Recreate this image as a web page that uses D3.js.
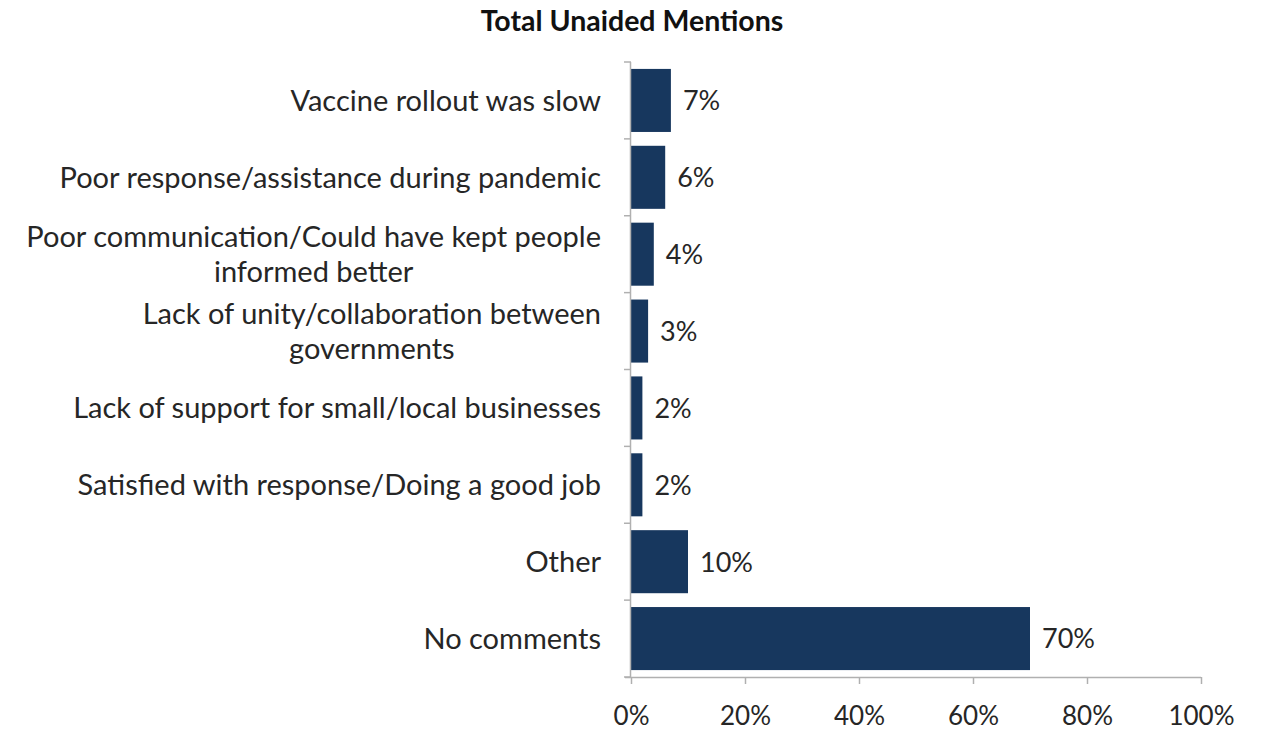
<!DOCTYPE html>
<html><head><meta charset="utf-8">
<script src="https://cdn.jsdelivr.net/npm/d3@7"></script>
<style>body{margin:0;background:#fff}svg{display:block}text{font-family:Lato,"Open Sans",sans-serif}</style>
</head><body>
<svg id="c" width="1263" height="732"></svg>
<script>
const categories = [
  ["Vaccine rollout was slow"],
  ["Poor response/assistance during pandemic"],
  ["Poor communication/Could have kept people", "informed better"],
  ["Lack of unity/collaboration between", "governments"],
  ["Lack of support for small/local businesses"],
  ["Satisfied with response/Doing a good job"],
  ["Other"],
  ["No comments"]
];
const values = [7, 6, 4, 3, 2, 2, 10, 70];
const xTicks = [0, 20, 40, 60, 80, 100];
const title = "Total Unaided Mentions";

const svg = d3.select("#c");
const m = {left: 631, right: 1201, top: 62, bottom: 677};
const ids = categories.map((d, i) => i);
const x = d3.scaleLinear().domain([0, 100]).range([m.left, m.right]);
const y = d3.scaleBand().domain(ids).range([m.top, m.bottom]).paddingInner(0.18).paddingOuter(0.09);
const barColor = "#17375E", axisColor = "#b0b0b0", textColor = "#262626";

svg.append("text").attr("x", 632).attr("y", 24).attr("text-anchor", "middle")
  .attr("dominant-baseline", "middle").attr("font-size", 28.5).attr("font-weight", "bold")
  .attr("fill", "#111").text(title);

svg.selectAll("rect.bar").data(values).join("rect").attr("class", "bar")
  .attr("x", x(0)).attr("y", (d, i) => y(i)).attr("width", d => x(d) - x(0))
  .attr("height", y.bandwidth()).attr("fill", barColor);

// category axis (left)
const step = y.step();
const bounds = d3.range(categories.length + 1).map(i => m.top + i * step);
svg.append("line").attr("x1", x(0) - 0.5).attr("x2", x(0) - 0.5).attr("y1", m.top).attr("y2", m.bottom)
  .attr("stroke", axisColor).attr("stroke-width", 1.5);
svg.selectAll("line.ytick").data(bounds).join("line").attr("class", "ytick")
  .attr("x1", x(0) - 7).attr("x2", x(0)).attr("y1", d => d).attr("y2", d => d)
  .attr("stroke", axisColor).attr("stroke-width", 1.5);

// x axis
const xa = svg.append("g").attr("transform", `translate(0,${m.bottom})`)
  .call(d3.axisBottom(x).tickValues(xTicks).tickSize(7).tickPadding(23).tickFormat(d => d + "%"));
xa.select(".domain").attr("stroke", axisColor).attr("stroke-width", 1.5).attr("d", `M${x(0)-6},0.5H${x(100)}`);
xa.selectAll(".tick line").attr("stroke", axisColor).attr("stroke-width", 1.5);
xa.selectAll(".tick text").attr("font-size", 26).attr("fill", textColor).attr("font-family", "Lato,'Open Sans',sans-serif");

// category labels
const lineH = 35;
categories.forEach((lines, i) => {
  const cy = y(i) + y.bandwidth() / 2 + 3;
  const g = svg.append("g");
  const ts = g.selectAll("text").data(lines).join("text")
    .attr("font-size", 29).attr("fill", textColor).attr("dominant-baseline", "middle")
    .attr("y", (d, j) => cy + (j - (lines.length - 1) / 2) * lineH).text(d => d);
  const w = d3.max(ts.nodes(), n => n.getComputedTextLength());
  ts.attr("text-anchor", "middle").attr("x", 601 - w / 2);
});

// value labels
svg.selectAll("text.val").data(values).join("text").attr("class", "val")
  .attr("x", d => x(d) + 12).attr("y", (d, i) => y(i) + y.bandwidth() / 2 + 3)
  .attr("dominant-baseline", "middle").attr("font-size", 27).attr("fill", textColor)
  .text(d => d + "%");
</script>
</body></html>
